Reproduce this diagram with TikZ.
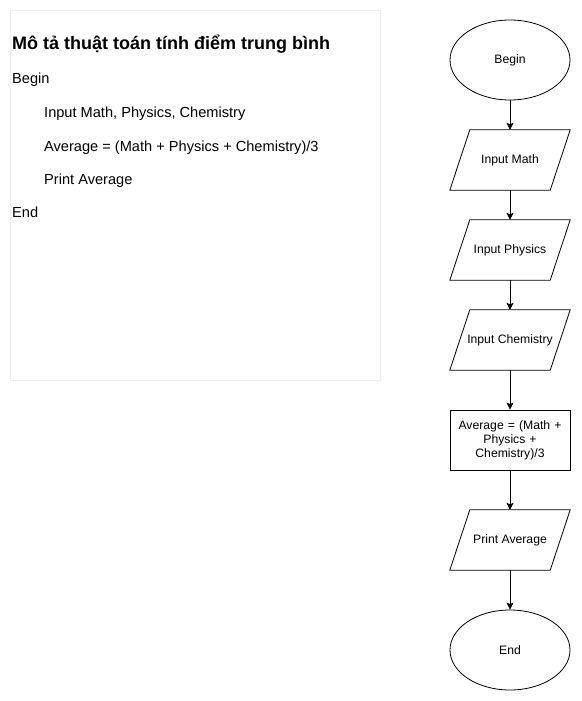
\documentclass[tikz,border=0pt]{standalone}
\usepackage{fontspec}
\setmainfont{Liberation Sans}
\usetikzlibrary{shapes.geometric,arrows.meta}
\definecolor{boxgray}{HTML}{EEEEEE}
\tikzset{
  x=1pt, y=-1pt,
  txt/.style={anchor=base west, inner sep=0pt, font=\fontsize{14.6}{16}\selectfont},
  ttl/.style={anchor=base west, inner sep=0pt, font=\fontsize{18}{20}\selectfont\bfseries},
  term/.style={ellipse, draw, line width=0.8pt, minimum width=120pt, minimum height=80pt, inner sep=0pt, font=\fontsize{12.2}{14}\selectfont},
  proc/.style={rectangle, draw, line width=0.8pt, minimum width=120pt, minimum height=60pt, inner sep=2pt, align=center, text width=112pt, font=\fontsize{12.2}{14}\selectfont},
  iobox/.style={rectangle, minimum width=120pt, minimum height=60pt, inner sep=0pt, font=\fontsize{12.2}{14}\selectfont},
  para/.style={line width=0.8pt},
  conn/.style={-{Stealth[length=7pt,width=7pt,inset=1.5pt]}, line width=0.8pt},
}
\newcommand{\paragram}[1]{\draw[para] ([xshift=20pt]#1.north west) -- (#1.north east) -- ([xshift=-20pt]#1.south east) -- (#1.south west) -- cycle;}
\begin{document}
\begin{tikzpicture}
\useasboundingbox (0,0) rectangle (581,701);
% description box
\draw[boxgray, line width=0.8pt] (10.5,10.5) rectangle (380.5,380.5);
\node[ttl] (title) at (12,50) {Mô tả thuật toán tính điểm trung bình};
\node[txt] (l1) at (12,84) {Begin};
\node[txt] (l2) at (44,117) {Input Math, Physics, Chemistry};
\node[txt] (l3) at (44,151) {Average = (Math + Physics + Chemistry)/3};
\node[txt] (l4) at (44,184) {Print Average};
\node[txt] (l5) at (12,217) {End};
% flowchart
\node[term] (begin) at (510,60) {Begin};
\node[iobox] (math) at (510,160) {Input Math};
\node[iobox] (phys) at (510,250) {Input Physics};
\node[iobox] (chem) at (510,340) {Input Chemistry};
\node[proc] (avg) at (510,440) {Average = (Math +\\Physics +\\Chemistry)/3};
\node[iobox] (print) at (510,540) {Print Average};
\node[term] (end) at (510,650) {End};
\paragram{math}
\paragram{phys}
\paragram{chem}
\paragram{print}
\draw[conn] (begin) -- (math);
\draw[conn] (math) -- (phys);
\draw[conn] (phys) -- (chem);
\draw[conn] (chem) -- (avg);
\draw[conn] (avg) -- (print);
\draw[conn] (print) -- (end);
\end{tikzpicture}
\end{document}
